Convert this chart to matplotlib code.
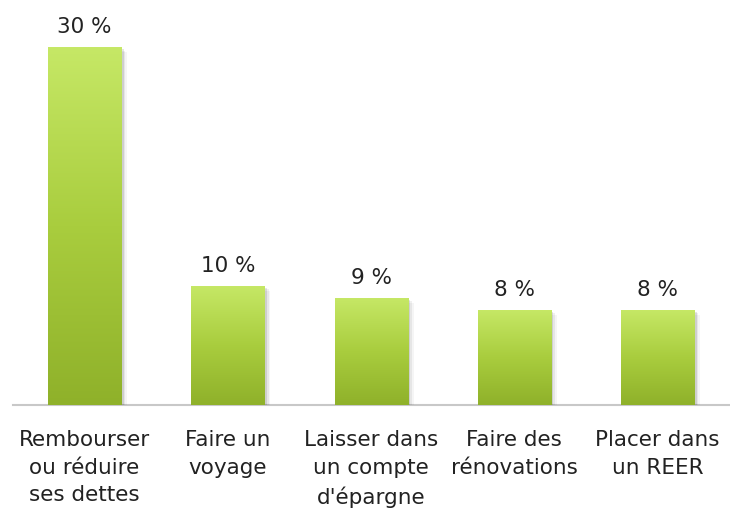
import numpy as np
import matplotlib.pyplot as plt
from matplotlib.colors import LinearSegmentedColormap

# DATA
categories = ["Rembourser\nou réduire\nses dettes", "Faire un\nvoyage",
              "Laisser dans\nun compte\nd'épargne", "Faire des\nrénovations",
              "Placer dans\nun REER"]
values = [30, 10, 9, 8, 8]

plt.rcParams['font.family'] = ['DejaVu Sans']

fig = plt.figure(figsize=(7.3, 5.08), dpi=100)
ax = fig.add_axes([0.0178, 0.2028, 0.981, 0.7516])

x = np.arange(len(values))
width = 0.51
green = LinearSegmentedColormap.from_list('g', ['#8fb12a', '#a9cd3e', '#c6e866'])

# shadow
for k, a in [(0.03, 0.10), (0.05, 0.06), (0.07, 0.04)]:
    ax.bar(x + k * 0.6, np.array(values), width, bottom=-k * 6,
           color='black', alpha=a, zorder=1, linewidth=0)

bars = ax.bar(x, values, width, color='none', zorder=2, linewidth=0)
grad = np.linspace(0, 1, 256).reshape(-1, 1)
for b in bars:
    x0, y0 = b.get_x(), b.get_y()
    w, h = b.get_width(), b.get_height()
    im = ax.imshow(grad, cmap=green, origin='lower', aspect='auto',
                   extent=[x0, x0 + w, y0, y0 + h], zorder=3)
    im.set_clip_path(b)

for xi, v in zip(x, values):
    ax.annotate(f"{v} %", (xi, v), xytext=(0, 7), textcoords='offset points',
                ha='center', va='bottom', fontsize=15.5, color='#222222')

ax.set_xlim(-0.5, len(values) - 0.5)
ax.set_ylim(0, 32)
ax.set_xticks(x)
ax.set_xticklabels(categories, fontsize=15.5, linespacing=1.48, color='#222222')
ax.tick_params(axis='x', length=0, pad=18)
ax.set_yticks([])
for s in ['top', 'right', 'left']:
    ax.spines[s].set_visible(False)
ax.spines['bottom'].set_color('#c8c8c8')
ax.spines['bottom'].set_linewidth(1.5)
ax.spines['bottom'].set_zorder(0)

fig.savefig('out.png', dpi=100)
